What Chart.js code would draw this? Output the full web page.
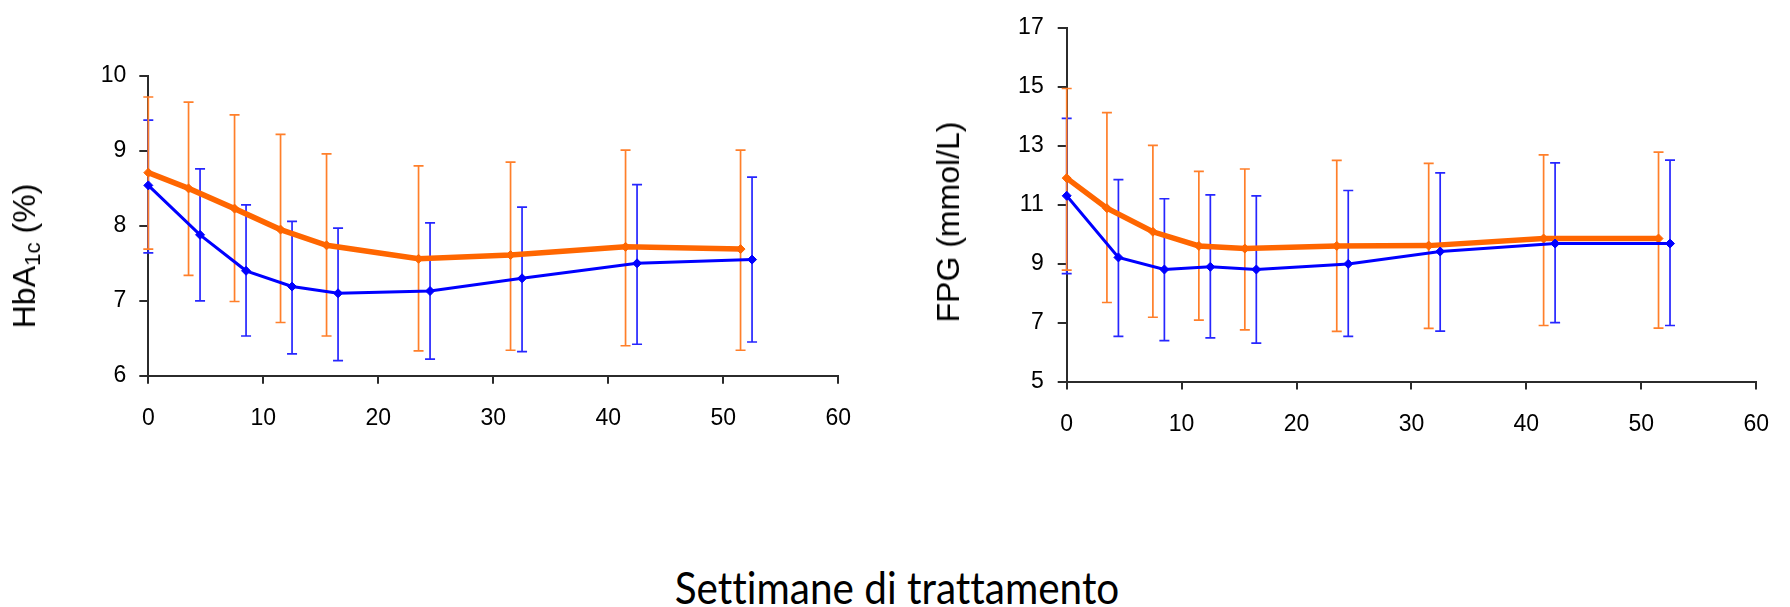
<!DOCTYPE html>
<html>
<head>
<meta charset="utf-8">
<script src="https://cdn.jsdelivr.net/npm/chart.js@4.4.1/dist/chart.umd.min.js"></script>
<style>
  body{ margin:0; background:#fff; width:1790px; height:607px; position:relative; overflow:hidden; font-family:"Liberation Sans", Arial, sans-serif; }
  #hbaBox{ position:absolute; left:0; top:0; width:880px; height:460px; }
  #fpgBox{ position:absolute; left:900px; top:0; width:890px; height:460px; }
  .yTitle{ position:absolute; font-size:32px; line-height:36px; white-space:nowrap; color:#000; transform:translate(-50%,-50%) rotate(-90deg); }
  .yTitle sub{ font-size:0.7em; line-height:0; vertical-align:-0.22em; }
  #xTitle{ position:absolute; left:897px; top:587px; transform:translate(-50%,-50%) scaleX(0.92); font-family:Lato, "Open Sans", sans-serif; font-size:44px; font-variant-ligatures:none; white-space:nowrap; color:#000; }
</style>
</head>
<body>
<div id="hbaBox"><canvas id="hbaChart" width="880" height="460"></canvas></div>
<div id="fpgBox"><canvas id="fpgChart" width="890" height="460"></canvas></div>
<div class="yTitle" style="left:24px;top:256px;">HbA<sub>1c</sub> (%)</div>
<div class="yTitle" style="left:948px;top:222px;">FPG (mmol/L)</div>
<div id="xTitle">Settimane di trattamento</div>

<script>
// settimane (punti arancio e blu leggermente sfalsati)
const weeksOrange = [0, 3.5, 7.5, 11.5, 15.5, 23.5, 31.5, 41.5, 51.5];
const weeksBlue = [0, 4.5, 8.5, 12.5, 16.5, 24.5, 32.5, 42.5, 52.5];
const weekTicks = [0, 10, 20, 30, 40, 50, 60];

// HbA1c (%)
const hbaTicks = [6, 7, 8, 9, 10];
const hbaOrangeMean = [8.71, 8.50, 8.23, 7.95, 7.74, 7.56, 7.61, 7.72, 7.69];
const hbaOrangeUpper = [9.72, 9.65, 9.48, 9.22, 8.96, 8.80, 8.85, 9.01, 9.01];
const hbaOrangeLower = [7.69, 7.34, 6.99, 6.71, 6.53, 6.33, 6.34, 6.40, 6.34];
const hbaBlueMean = [8.54, 7.88, 7.40, 7.19, 7.10, 7.13, 7.30, 7.50, 7.55];
const hbaBlueUpper = [9.41, 8.76, 8.28, 8.06, 7.97, 8.04, 8.25, 8.55, 8.65];
const hbaBlueLower = [7.64, 7.00, 6.53, 6.29, 6.20, 6.22, 6.32, 6.42, 6.45];

// FPG (mmol/L)
const fpgTicks = [5, 7, 9, 11, 13, 15, 17];
const fpgOrangeMean = [11.9, 10.88, 10.08, 9.6, 9.51, 9.6, 9.61, 9.85, 9.85];
const fpgOrangeUpper = [14.94, 14.12, 13.01, 12.13, 12.21, 12.5, 12.4, 12.69, 12.78];
const fpgOrangeLower = [8.78, 7.68, 7.18, 7.08, 6.75, 6.7, 6.8, 6.9, 6.81];
const fpgBlueMean = [11.3, 9.21, 8.8, 8.89, 8.8, 8.99, 9.41, 9.68, 9.68];
const fpgBlueUpper = [13.93, 11.85, 11.2, 11.33, 11.3, 11.48, 12.08, 12.42, 12.51];
const fpgBlueLower = [8.66, 6.53, 6.39, 6.48, 6.3, 6.53, 6.71, 7.0, 6.9];

const ORANGE = "#FF6600";
const ORANGE_BAR = "#FF7F2A";
const BLUE = "#0000FF";
const BLUE_BAR = "#2626FF";
const AXIS = "#2b2b2b";

function toPoints(weeks, values){
  return weeks.map((w,i) => ({ x:w, y:values[i] }));
}

const errorBars = {
  id:"errorBars",
  beforeDatasetsDraw(chart){
    const ctx = chart.ctx;
    const xs = chart.scales.x;
    const ys = chart.scales.y;
    chart.data.datasets.forEach(ds => {
      ctx.save();
      ctx.strokeStyle = ds.barColor;
      ctx.lineWidth = 1.7;
      ds.data.forEach((p,i) => {
        const px = xs.getPixelForValue(p.x);
        const top = ys.getPixelForValue(ds.upper[i]);
        const bot = ys.getPixelForValue(ds.lower[i]);
        ctx.beginPath();
        ctx.moveTo(px, top); ctx.lineTo(px, bot);
        ctx.moveTo(px - 5, top); ctx.lineTo(px + 5, top);
        ctx.moveTo(px - 5, bot); ctx.lineTo(px + 5, bot);
        ctx.stroke();
      });
      ctx.restore();
    });
  }
};

function series(weeks, mean, upper, lower, color, barColor, width){
  return {
    data:toPoints(weeks, mean),
    upper, lower, barColor,
    showLine:true,
    borderColor:color,
    backgroundColor:color,
    borderWidth:width,
    pointStyle:"rectRot",
    pointRadius:4.5,
    pointBorderWidth:1,
    pointBackgroundColor:color,
    pointBorderColor:color,
    clip:false
  };
}

function makeChart(canvasId, yTicks, yMin, yMax, axisWidth, padding, yPad, blueSet, orangeSet){
  return new Chart(document.getElementById(canvasId),{
    type:"scatter",
    data:{ datasets:[blueSet, orangeSet] },
    options:{
      responsive:false,
      animation:false,
      layout:{ padding },
      plugins:{ legend:{ display:false }, tooltip:{ enabled:false } },
      scales:{
        x:{
          type:"linear", min:0, max:60,
          afterBuildTicks:s => { s.ticks = weekTicks.map(v => ({ value:v })); },
          afterFit:s => { s.height = 60; },
          ticks:{ color:"#000", padding:21, maxRotation:0, font:{ family:"Liberation Sans", size:23 } },
          grid:{ drawOnChartArea:false, drawTicks:true, tickLength:8, color:AXIS, lineWidth:2 },
          border:{ color:AXIS, width:2 }
        },
        y:{
          type:"linear", min:yMin, max:yMax,
          afterBuildTicks:s => { s.ticks = yTicks.map(v => ({ value:v })); },
          afterFit:s => { s.width = axisWidth; },
          ticks:{ color:"#000", padding:yPad, font:{ family:"Liberation Sans", size:23 } },
          grid:{ drawOnChartArea:false, drawTicks:true, tickLength:9, color:AXIS, lineWidth:2 },
          border:{ color:AXIS, width:2 }
        }
      }
    },
    plugins:[errorBars]
  });
}

makeChart("hbaChart", hbaTicks, 6, 10, 148.3,
  { top:76, right:41.7, bottom:24.3, left:0 }, 13,
  series(weeksBlue, hbaBlueMean, hbaBlueUpper, hbaBlueLower, BLUE, BLUE_BAR, 3),
  series(weeksOrange, hbaOrangeMean, hbaOrangeUpper, hbaOrangeLower, ORANGE, ORANGE_BAR, 5.5));

makeChart("fpgChart", fpgTicks, 5, 17, 166.7,
  { top:18, right:30.5, bottom:18.5, left:0 }, 14,
  series(weeksBlue, fpgBlueMean, fpgBlueUpper, fpgBlueLower, BLUE, BLUE_BAR, 3),
  series(weeksOrange, fpgOrangeMean, fpgOrangeUpper, fpgOrangeLower, ORANGE, ORANGE_BAR, 5.5));
</script>
</body>
</html>
